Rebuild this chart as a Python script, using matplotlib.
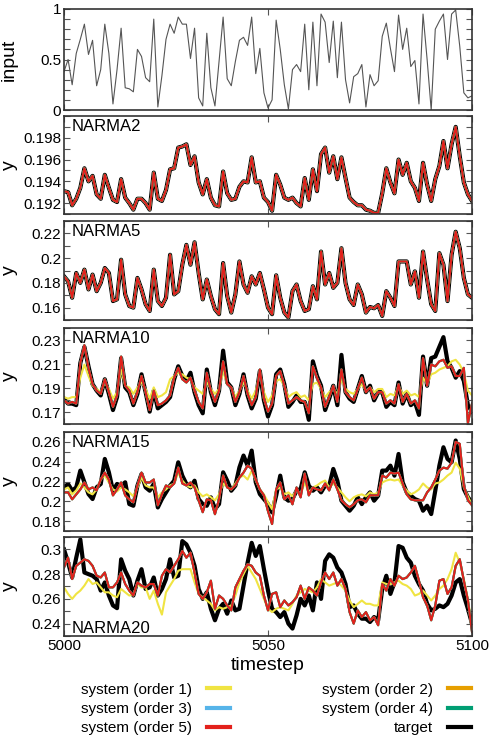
import matplotlib
matplotlib.use("Agg")
import matplotlib.pyplot as plt
from matplotlib.lines import Line2D
from matplotlib.ticker import FixedLocator, MultipleLocator, FuncFormatter

plt.rcParams['font.family'] = ['Liberation Sans', 'DejaVu Sans']

steps = list(range(5000, 5101))

u_input = [0.38, 0.50, 0.25, 0.56, 0.70, 0.85, 0.55, 0.69, 0.24, 0.40,
           0.85, 0.56, 0.06, 0.40, 0.81, 0.22, 0.21, 0.18, 0.60, 0.53,
           0.32, 0.28, 0.90, 0.03, 0.34, 0.70, 0.85, 0.76, 0.92, 0.85,
           0.85, 0.51, 0.81, 0.12, 0.04, 0.76, 0.22, 0.04, 0.48, 0.92,
           0.31, 0.24, 0.48, 0.69, 0.72, 0.64, 0.92, 0.36, 0.61, 0.17,
           0.02, 0.10, 0.89, 0.60, 0.25, 0.01, 0.40, 0.45, 0.38, 0.85,
           0.20, 0.87, 0.24, 0.95, 0.87, 0.47, 0.88, 0.32, 0.87, 0.30,
           0.07, 0.33, 0.36, 0.45, 0.03, 0.35, 0.24, 0.29, 0.73, 0.86,
           0.61, 0.38, 0.94, 0.60, 0.81, 0.43, 0.49, 0.06, 0.95, 0.50,
           0.00, 0.80, 0.88, 0.95, 0.50, 0.95, 0.99, 0.63, 0.17, 0.12,
           0.14]

# NARMA2 / NARMA5: all systems lie on the target at this resolution
n2_target = [0.1931, 0.1930, 0.1918, 0.1924, 0.1934, 0.1952, 0.1940, 0.1945, 0.1928, 0.1924,
             0.1946, 0.1934, 0.1923, 0.1921, 0.1942, 0.1925, 0.1920, 0.1914, 0.1924, 0.1924,
             0.1920, 0.1914, 0.1948, 0.1924, 0.1922, 0.1932, 0.1951, 0.1952, 0.1971, 0.1972,
             0.1974, 0.1955, 0.1963, 0.1939, 0.1928, 0.1942, 0.1925, 0.1918, 0.1917, 0.1949,
             0.1929, 0.1923, 0.1924, 0.1935, 0.1940, 0.1939, 0.1962, 0.1939, 0.1940, 0.1925,
             0.1921, 0.1913, 0.1946, 0.1937, 0.1925, 0.1923, 0.1925, 0.1920, 0.1917, 0.1943,
             0.1923, 0.1951, 0.1931, 0.1965, 0.1971, 0.1948, 0.1963, 0.1942, 0.1962, 0.1943,
             0.1925, 0.1921, 0.1918, 0.1918, 0.1914, 0.1913, 0.1911, 0.1911, 0.1929, 0.1952,
             0.1939, 0.1929, 0.1960, 0.1946, 0.1957, 0.1940, 0.1934, 0.1922, 0.1957, 0.1937,
             0.1922, 0.1942, 0.1954, 0.1977, 0.1952, 0.1974, 0.1990, 0.1963, 0.1939, 0.1928,
             0.1922]

n5_target = [0.1853, 0.1813, 0.1680, 0.1880, 0.1800, 0.1907, 0.1747, 0.1867, 0.1733, 0.1800,
             0.1920, 0.1880, 0.1653, 0.1667, 0.1987, 0.1707, 0.1613, 0.1600, 0.1840, 0.1747,
             0.1627, 0.1573, 0.1907, 0.1653, 0.1613, 0.1680, 0.2027, 0.1707, 0.1733, 0.1947,
             0.2107, 0.1947, 0.2128, 0.1880, 0.1667, 0.1827, 0.1693, 0.1587, 0.1547, 0.1960,
             0.1693, 0.1560, 0.1707, 0.1973, 0.1787, 0.1720, 0.1853, 0.1787, 0.1880, 0.1747,
             0.1600, 0.1547, 0.1861, 0.1680, 0.1560, 0.1520, 0.1733, 0.1787, 0.1653, 0.1573,
             0.1587, 0.1773, 0.1667, 0.2053, 0.1787, 0.1880, 0.1760, 0.1800, 0.2080, 0.1800,
             0.1667, 0.1621, 0.1787, 0.1707, 0.1560, 0.1605, 0.1595, 0.1621, 0.1533, 0.1733,
             0.1680, 0.1613, 0.1973, 0.1973, 0.1973, 0.1787, 0.1893, 0.1680, 0.2053, 0.1827,
             0.1627, 0.1573, 0.2040, 0.1947, 0.1653, 0.2027, 0.2213, 0.2080, 0.1840, 0.1707,
             0.1680]

n10_target = [0.1811, 0.1770, 0.1770, 0.1757, 0.2108, 0.2243, 0.2081, 0.1932, 0.1878, 0.1838,
              0.1973, 0.1851, 0.1716, 0.1824, 0.2149, 0.1905, 0.1865, 0.1757, 0.1851, 0.2014,
              0.1865, 0.1703, 0.1878, 0.1730, 0.1757, 0.1784, 0.1824, 0.1973, 0.2081, 0.2000,
              0.1959, 0.2027, 0.1865, 0.1757, 0.1689, 0.2054, 0.1865, 0.1757, 0.1878, 0.2211,
              0.1946, 0.1905, 0.1757, 0.1851, 0.2014, 0.1838, 0.1730, 0.1811, 0.2041, 0.1797,
              0.1662, 0.1757, 0.2014, 0.2054, 0.1932, 0.1743, 0.1784, 0.1838, 0.1784, 0.1784,
              0.1635, 0.2122, 0.2000, 0.1919, 0.1716, 0.1811, 0.1919, 0.1757, 0.2176, 0.1865,
              0.1811, 0.1784, 0.1892, 0.2000, 0.1865, 0.1919, 0.1797, 0.1865, 0.1865, 0.1743,
              0.1784, 0.1757, 0.1946, 0.1770, 0.1851, 0.1757, 0.1784, 0.1676, 0.2162, 0.1919,
              0.2149, 0.2162, 0.2243, 0.2324, 0.2122, 0.2068, 0.1986, 0.2041, 0.1959, 0.1757,
              0.1703]

n10_order1 = [0.1824, 0.1811, 0.1824, 0.1824, 0.1986, 0.2095, 0.2000, 0.1919, 0.1892, 0.1865,
              0.1946, 0.1892, 0.1811, 0.1865, 0.2054, 0.1919, 0.1905, 0.1851, 0.1905, 0.1946,
              0.1892, 0.1811, 0.1905, 0.1824, 0.1838, 0.1865, 0.1973, 0.2000, 0.2027, 0.2014,
              0.1986, 0.1973, 0.1905, 0.1878, 0.1851, 0.1946, 0.1892, 0.1851, 0.1892, 0.2041,
              0.1932, 0.1905, 0.1824, 0.1878, 0.1946, 0.1878, 0.1811, 0.1878, 0.2014, 0.1865,
              0.1784, 0.1838, 0.1959, 0.1973, 0.1919, 0.1824, 0.1851, 0.1865, 0.1824, 0.1838,
              0.1797, 0.1932, 0.1946, 0.1892, 0.1824, 0.1865, 0.1892, 0.1851, 0.1973, 0.1892,
              0.1865, 0.1851, 0.1892, 0.1932, 0.1878, 0.1905, 0.1865, 0.1892, 0.1892, 0.1824,
              0.1851, 0.1838, 0.1919, 0.1851, 0.1878, 0.1838, 0.1851, 0.1824, 0.1986, 0.1932,
              0.2014, 0.2027, 0.2054, 0.2068, 0.2081, 0.2122, 0.2135, 0.2095, 0.2027, 0.1878,
              0.1838]

# orders 2-5 cannot be told apart from each other here
n10_higher = [0.1797, 0.1770, 0.1784, 0.1770, 0.2108, 0.2257, 0.2068, 0.1932, 0.1878, 0.1851,
              0.1973, 0.1865, 0.1743, 0.1838, 0.2162, 0.1919, 0.1878, 0.1770, 0.1865, 0.2000,
              0.1865, 0.1716, 0.1878, 0.1757, 0.1770, 0.1797, 0.1838, 0.1986, 0.2068, 0.1973,
              0.1946, 0.1986, 0.1878, 0.1784, 0.1730, 0.2027, 0.1878, 0.1784, 0.1878, 0.2122,
              0.1932, 0.1905, 0.1784, 0.1865, 0.2000, 0.1851, 0.1757, 0.1824, 0.2054, 0.1811,
              0.1703, 0.1770, 0.2000, 0.2041, 0.1919, 0.1770, 0.1797, 0.1824, 0.1797, 0.1784,
              0.1690, 0.2081, 0.1986, 0.1905, 0.1743, 0.1824, 0.1919, 0.1784, 0.2054, 0.1865,
              0.1824, 0.1797, 0.1892, 0.1986, 0.1865, 0.1905, 0.1811, 0.1865, 0.1865, 0.1770,
              0.1797, 0.1770, 0.1932, 0.1784, 0.1851, 0.1770, 0.1797, 0.1730, 0.2149, 0.1919,
              0.2095, 0.2081, 0.2122, 0.2135, 0.2068, 0.2081, 0.2000, 0.2000, 0.2068, 0.1608,
              0.1770]

n15_target = [0.2141, 0.2175, 0.2107, 0.2141, 0.2310, 0.2192, 0.2073, 0.2023, 0.2141, 0.2175,
              0.2428, 0.2293, 0.2107, 0.2175, 0.2158, 0.2192, 0.1972, 0.1955, 0.2158, 0.2276,
              0.2141, 0.2107, 0.2175, 0.1938, 0.2023, 0.2090, 0.2158, 0.2208, 0.2394, 0.2259,
              0.2175, 0.2141, 0.2208, 0.2023, 0.1972, 0.1955, 0.2040, 0.1922, 0.1972, 0.2293,
              0.2208, 0.2107, 0.2158, 0.2343, 0.2462, 0.2360, 0.2512, 0.2192, 0.2073, 0.2023,
              0.1972, 0.1888, 0.2057, 0.2259, 0.2040, 0.2006, 0.2023, 0.2107, 0.2124, 0.2293,
              0.2158, 0.2107, 0.2141, 0.2090, 0.2158, 0.2158, 0.2327, 0.2208, 0.2006, 0.1955,
              0.1905, 0.1955, 0.2040, 0.1972, 0.2040, 0.2090, 0.2006, 0.2057, 0.2310, 0.2310,
              0.2360, 0.2259, 0.2478, 0.2192, 0.2090, 0.2057, 0.2023, 0.2006, 0.1905, 0.1955,
              0.1871, 0.2107, 0.2360, 0.2546, 0.2428, 0.2394, 0.2614, 0.2428, 0.2124, 0.2040,
              0.1989]

n15_order1 = [0.212, 0.214, 0.207, 0.211, 0.218, 0.214, 0.209, 0.207, 0.212, 0.222,
              0.226, 0.219, 0.212, 0.210, 0.214, 0.212, 0.209, 0.205, 0.214, 0.224,
              0.216, 0.214, 0.214, 0.204, 0.209, 0.212, 0.216, 0.218, 0.229, 0.221,
              0.216, 0.214, 0.216, 0.209, 0.205, 0.207, 0.204, 0.201, 0.207, 0.218,
              0.214, 0.212, 0.218, 0.224, 0.226, 0.222, 0.231, 0.221, 0.212, 0.207,
              0.199, 0.192, 0.212, 0.214, 0.207, 0.209, 0.205, 0.211, 0.207, 0.219,
              0.209, 0.214, 0.216, 0.219, 0.221, 0.214, 0.218, 0.214, 0.209, 0.204,
              0.200, 0.204, 0.206, 0.207, 0.205, 0.209, 0.207, 0.209, 0.219, 0.221,
              0.222, 0.221, 0.222, 0.216, 0.211, 0.207, 0.209, 0.212, 0.218, 0.214,
              0.212, 0.218, 0.219, 0.222, 0.226, 0.229, 0.239, 0.233, 0.214, 0.205,
              0.196]

n15_higher = [0.209, 0.209, 0.202, 0.207, 0.212, 0.219, 0.212, 0.214, 0.211, 0.222,
              0.229, 0.222, 0.206, 0.212, 0.219, 0.206, 0.202, 0.199, 0.216, 0.229,
              0.219, 0.219, 0.222, 0.196, 0.207, 0.216, 0.214, 0.218, 0.234, 0.218,
              0.216, 0.219, 0.214, 0.201, 0.189, 0.202, 0.201, 0.187, 0.202, 0.226,
              0.214, 0.212, 0.216, 0.224, 0.229, 0.236, 0.233, 0.222, 0.212, 0.206,
              0.190, 0.177, 0.212, 0.219, 0.202, 0.206, 0.197, 0.214, 0.204, 0.228,
              0.206, 0.214, 0.212, 0.211, 0.218, 0.211, 0.222, 0.212, 0.201, 0.197,
              0.194, 0.197, 0.201, 0.202, 0.199, 0.206, 0.206, 0.206, 0.226, 0.224,
              0.229, 0.228, 0.229, 0.218, 0.207, 0.202, 0.201, 0.201, 0.201, 0.209,
              0.214, 0.222, 0.231, 0.234, 0.233, 0.239, 0.260, 0.258, 0.216, 0.201,
              0.196]

n20_target = [0.3000, 0.2893, 0.2773, 0.2933, 0.3080, 0.2813, 0.2800, 0.2787, 0.2760, 0.2667,
              0.2733, 0.2627, 0.2547, 0.2525, 0.2920, 0.2827, 0.2760, 0.2627, 0.2747, 0.2840,
              0.2680, 0.2693, 0.2773, 0.2627, 0.2680, 0.2760, 0.2920, 0.2773, 0.2787, 0.3067,
              0.3040, 0.2973, 0.2867, 0.2680, 0.2600, 0.2653, 0.2520, 0.2427, 0.2520, 0.2560,
              0.2480, 0.2587, 0.2507, 0.2520, 0.2707, 0.2893, 0.3053, 0.2947, 0.3027, 0.2840,
              0.2667, 0.2520, 0.2493, 0.2453, 0.2493, 0.2400, 0.2360, 0.2467, 0.2600, 0.2547,
              0.2627, 0.2507, 0.2733, 0.2600, 0.2907, 0.2960, 0.2933, 0.2853, 0.2813, 0.2720,
              0.2533, 0.2547, 0.2480, 0.2440, 0.2440, 0.2413, 0.2453, 0.2427, 0.2680, 0.2787,
              0.2640, 0.2733, 0.3027, 0.3013, 0.2933, 0.2893, 0.2787, 0.2720, 0.2667, 0.2560,
              0.2507, 0.2520, 0.2547, 0.2533, 0.2560, 0.2627, 0.2733, 0.2760, 0.2627, 0.2520,
              0.2400]

n20_order1 = [0.2693, 0.2640, 0.2600, 0.2640, 0.2667, 0.2707, 0.2760, 0.2720, 0.2733, 0.2693,
              0.2653, 0.2653, 0.2627, 0.2613, 0.2680, 0.2653, 0.2627, 0.2640, 0.2720, 0.2693,
              0.2693, 0.2600, 0.2667, 0.2560, 0.2473, 0.2653, 0.2707, 0.2760, 0.2827, 0.2840,
              0.2840, 0.2840, 0.2733, 0.2640, 0.2613, 0.2587, 0.2560, 0.2507, 0.2533, 0.2520,
              0.2533, 0.2547, 0.2627, 0.2733, 0.2800, 0.2867, 0.2813, 0.2760, 0.2680, 0.2600,
              0.2520, 0.2493, 0.2520, 0.2533, 0.2520, 0.2507, 0.2560, 0.2627, 0.2653, 0.2680,
              0.2667, 0.2653, 0.2693, 0.2760, 0.2733, 0.2707, 0.2720, 0.2733, 0.2707, 0.2667,
              0.2587, 0.2533, 0.2560, 0.2587, 0.2560, 0.2560, 0.2547, 0.2547, 0.2733, 0.2720,
              0.2720, 0.2733, 0.2747, 0.2720, 0.2707, 0.2680, 0.2627, 0.2640, 0.2667, 0.2627,
              0.2587, 0.2627, 0.2680, 0.2707, 0.2760, 0.2840, 0.2973, 0.2893, 0.2760, 0.2600,
              0.2360]

n20_higher = [0.2853, 0.2933, 0.2760, 0.2867, 0.2893, 0.2920, 0.2907, 0.2867, 0.2787, 0.2773,
              0.2813, 0.2693, 0.2693, 0.2733, 0.2813, 0.2720, 0.2667, 0.2627, 0.2733, 0.2707,
              0.2693, 0.2720, 0.2720, 0.2627, 0.2787, 0.2840, 0.2813, 0.2867, 0.2920, 0.2987,
              0.2933, 0.2973, 0.2813, 0.2640, 0.2600, 0.2653, 0.2747, 0.2520, 0.2627, 0.2600,
              0.2547, 0.2507, 0.2693, 0.2760, 0.2827, 0.2880, 0.2867, 0.2813, 0.2787, 0.2627,
              0.2507, 0.2640, 0.2653, 0.2533, 0.2587, 0.2547, 0.2573, 0.2613, 0.2707, 0.2600,
              0.2693, 0.2667, 0.2627, 0.2733, 0.2813, 0.2760, 0.2813, 0.2707, 0.2760, 0.2680,
              0.2493, 0.2400, 0.2507, 0.2453, 0.2493, 0.2427, 0.2453, 0.2387, 0.2720, 0.2667,
              0.2760, 0.2707, 0.2787, 0.2760, 0.2773, 0.2813, 0.2867, 0.2747, 0.2613, 0.2547,
              0.2427, 0.2547, 0.2747, 0.2760, 0.2640, 0.2693, 0.2867, 0.2920, 0.2747, 0.2587,
              0.2333]

system_labels = ['system (order 1)', 'system (order 2)', 'system (order 3)',
                 'system (order 4)', 'system (order 5)']
system_colors = ['#F0E442', '#E69F00', '#56B4E9', '#009E73', '#E3211C']

W, H = 491.0, 738.0
AX_LEFT, AX_RIGHT = 64, 472


def fmt(v, pos):
    return '%g' % round(v, 4)


def style_axis(ax, ylim, major, minor):
    ax.set_xlim(5000, 5100)
    ax.set_ylim(*ylim)
    ax.xaxis.set_major_locator(FixedLocator([5000, 5050, 5100]))
    ax.yaxis.set_major_locator(FixedLocator(major))
    ax.yaxis.set_minor_locator(MultipleLocator(minor))
    ax.yaxis.set_major_formatter(FuncFormatter(fmt))
    ax.tick_params(which='both', direction='in', top=True, right=True,
                   length=4, width=0.8, color='#555555', labelsize=11, pad=2)
    for sp in ax.spines.values():
        sp.set_linewidth(1.2)
        sp.set_color('#333333')
    ax.yaxis.set_label_coords((18 - AX_LEFT) / (AX_RIGHT - AX_LEFT), 0.5)


def add_axes(fig, top, bottom):
    return fig.add_axes([AX_LEFT / W, 1 - bottom / H,
                         (AX_RIGHT - AX_LEFT) / W, (bottom - top) / H])


def make():
    fig = plt.figure(figsize=(4.91, 7.38), dpi=100)

    ax = add_axes(fig, 9, 110)
    ax.plot(steps, u_input, color='#555555', lw=0.8)
    style_axis(ax, (0, 1), [0, 0.5, 1], 0.1)
    ax.set_ylabel('input', fontsize=14)
    ax.tick_params(labelbottom=False)

    panels = [
        ('NARMA2', n2_target, [n2_target] * 5, (0.191, 0.2),
         [0.192, 0.194, 0.196, 0.198], 0.001, (116, 214)),
        ('NARMA5', n5_target, [n5_target] * 5, (0.15, 0.23),
         [0.16, 0.18, 0.2, 0.22], 0.01, (221, 320)),
        ('NARMA10', n10_target, [n10_order1] + [n10_higher] * 4, (0.16, 0.24),
         [0.17, 0.19, 0.21, 0.23], 0.01, (328, 424)),
        ('NARMA15', n15_target, [n15_order1] + [n15_higher] * 4, (0.17, 0.27),
         [0.18, 0.2, 0.22, 0.24, 0.26], 0.01, (432, 531)),
        ('NARMA20', n20_target, [n20_order1] + [n20_higher] * 4, (0.23, 0.31),
         [0.24, 0.26, 0.28, 0.3], 0.01, (537, 636)),
    ]

    for i, (name, target, systems, ylim, major, minor, (top, bottom)) in enumerate(panels):
        ax = add_axes(fig, top, bottom)
        ax.plot(steps, target, color='black', lw=3, zorder=1)
        for vals, col in zip(systems, system_colors):
            ax.plot(steps, vals, color=col, lw=1.5, zorder=2)
        style_axis(ax, ylim, major, minor)
        ax.set_ylabel('y', fontsize=14)
        last = i == len(panels) - 1
        if last:
            ax.text(0.019, 0.03, name, transform=ax.transAxes, fontsize=12,
                    ha='left', va='baseline')
            ax.set_xlabel('timestep', fontsize=14, labelpad=3)
        else:
            ax.text(0.019, 0.965, name, transform=ax.transAxes, fontsize=12,
                    ha='left', va='top')
            ax.tick_params(labelbottom=False)

    handles = [Line2D([], [], color=c, lw=3) for c in system_colors]
    handles.append(Line2D([], [], color='black', lw=3))
    labels = system_labels + ['target']
    order = [0, 2, 4, 1, 3, 5]
    fig.legend([handles[k] for k in order], [labels[k] for k in order],
               loc='upper left', bbox_to_anchor=(67 / W, 1 - 669 / H),
               ncol=2, frameon=False, markerfirst=False, fontsize=11,
               handlelength=1.5, handletextpad=1.0, columnspacing=6.0,
               labelspacing=0.35, borderpad=0.4)

    fig.savefig('out.png', dpi=100)


if __name__ == '__main__':
    make()
